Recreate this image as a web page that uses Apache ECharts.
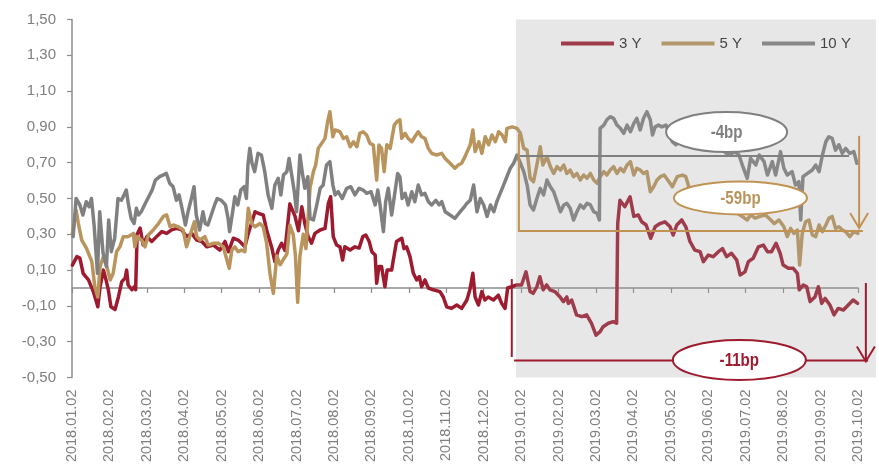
<!DOCTYPE html>
<html>
<head>
<meta charset="utf-8">
<script src="https://cdn.jsdelivr.net/npm/echarts@6/dist/echarts.min.js"></script>
<style>
  html, body { margin: 0; padding: 0; background: #ffffff; }
  #chart { width: 879px; height: 467px; }
</style>
</head>
<body>
<div id="chart"></div>
<script>
// Month tick labels (x axis is measured in months from 2018.01.02)
const tickLabels = [
  '2018.01.02', '2018.02.02', '2018.03.02', '2018.04.02', '2018.05.02', '2018.06.02',
  '2018.07.02', '2018.08.02', '2018.09.02', '2018.10.02', '2018.11.02', '2018.12.02',
  '2019.01.02', '2019.02.02', '2019.03.02', '2019.04.02', '2019.05.02', '2019.06.02',
  '2019.07.02', '2019.08.02', '2019.09.02', '2019.10.02'
];
const yTicks = [-0.5, -0.3, -0.1, 0.1, 0.3, 0.5, 0.7, 0.9, 1.1, 1.3, 1.5];
const seriesNames = ['3 Y', '5 Y', '10 Y'];

// [month, yield %]
const yield3Y = [
  [0.01,0.128],[0.13,0.175],[0.21,0.167],[0.30,0.08],[0.44,0.045],[0.57,-0.02],[0.69,-0.105],[0.75,0.007],
  [0.84,0.10],[0.91,0.045],[0.97,-0.01],[1.04,-0.105],[1.15,-0.12],[1.24,-0.05],[1.33,0.035],[1.42,0.055],
  [1.46,0.10],[1.50,0.017],[1.60,-0.01],[1.66,0.007],[1.70,-0.01],[1.74,0.30],[1.82,0.335],[1.90,0.24],
  [2.00,0.287],[2.13,0.26],[2.26,0.287],[2.40,0.315],[2.53,0.305],[2.66,0.325],[2.80,0.333],[2.93,0.325],
  [3.06,0.287],[3.20,0.305],[3.33,0.268],[3.47,0.26],[3.60,0.23],[3.78,0.24],[3.95,0.212],[4.09,0.26],
  [4.18,0.203],[4.31,0.278],[4.44,0.268],[4.53,0.25],[4.62,0.23],[4.71,0.305],[4.89,0.426],[4.98,0.417],
  [5.11,0.408],[5.20,0.324],[5.34,0.223],[5.42,0.147],[5.51,0.212],[5.60,0.25],[5.69,0.21],[5.82,0.47],
  [5.96,0.40],[6.05,0.32],[6.14,0.454],[6.22,0.36],[6.31,0.287],[6.40,0.25],[6.49,0.305],[6.63,0.324],
  [6.76,0.333],[6.85,0.473],[6.91,0.51],[6.98,0.287],[7.07,0.24],[7.16,0.23],[7.23,0.156],[7.29,0.23],
  [7.43,0.212],[7.56,0.23],[7.67,0.223],[7.77,0.287],[7.85,0.296],[7.94,0.26],[8.01,0.203],[8.10,0.184],
  [8.14,0.026],[8.20,0.12],[8.27,0.12],[8.36,0.007],[8.42,0.10],[8.54,0.10],[8.60,0.175],[8.67,0.26],
  [8.81,0.278],[8.87,0.22],[8.94,0.23],[9.03,0.175],[9.12,0.082],[9.21,0.045],[9.28,0.063],[9.34,0.007],
  [9.43,0.045],[9.52,0.0],[9.65,-0.01],[9.83,-0.02],[9.92,-0.05],[10.01,-0.105],[10.14,-0.114],[10.28,-0.095],
  [10.41,-0.114],[10.55,-0.067],[10.63,-0.01],[10.71,0.082],[10.77,-0.05],[10.86,-0.095],[10.95,-0.02],[11.03,-0.067],
  [11.12,-0.05],[11.26,-0.067],[11.39,-0.04],[11.48,-0.086],[11.57,-0.114],[11.64,0.0],[11.75,0.007],[11.88,0.017],
  [12.01,0.017],[12.13,0.09],[12.24,-0.02],[12.32,-0.03],[12.42,0.007],[12.50,0.063],[12.59,-0.01],[12.68,0.017],
  [12.77,-0.01],[12.90,-0.02],[13.04,-0.05],[13.13,-0.076],[13.22,-0.05],[13.26,-0.086],[13.35,-0.067],[13.48,-0.15],
  [13.62,-0.16],[13.75,-0.15],[13.88,-0.197],[14.00,-0.263],[14.11,-0.244],[14.19,-0.216],[14.33,-0.197],[14.46,-0.188],
  [14.55,-0.197],[14.58,0.36],[14.64,0.49],[14.77,0.454],[14.91,0.51],[15.01,0.40],[15.13,0.408],[15.22,0.37],
  [15.34,0.352],[15.46,0.278],[15.58,0.342],[15.71,0.36],[15.84,0.37],[15.98,0.342],[16.06,0.296],[16.16,0.352],
  [16.29,0.38],[16.40,0.342],[16.51,0.26],[16.64,0.212],[16.78,0.203],[16.87,0.147],[17.00,0.184],[17.13,0.175],
  [17.27,0.203],[17.38,0.22],[17.49,0.175],[17.62,0.194],[17.76,0.156],[17.85,0.073],[17.98,0.09],[18.07,0.147],
  [18.20,0.166],[18.34,0.23],[18.47,0.24],[18.58,0.203],[18.69,0.203],[18.81,0.25],[18.92,0.194],[19.00,0.128],
  [19.14,0.11],[19.27,0.11],[19.38,0.082],[19.43,-0.01],[19.54,0.017],[19.63,0.007],[19.72,-0.076],[19.85,-0.05],
  [19.94,0.007],[20.03,-0.086],[20.12,-0.058],[20.25,-0.095],[20.36,-0.15],[20.47,-0.114],[20.61,-0.123],[20.74,-0.095],
  [20.87,-0.067],[20.99,-0.086]
];

const yield5Y = [
  [0.01,0.305],[0.11,0.436],[0.17,0.36],[0.26,0.268],[0.39,0.22],[0.53,0.147],[0.61,0.007],[0.69,-0.05],
  [0.75,0.12],[0.84,0.175],[0.93,0.12],[1.02,0.045],[1.10,0.082],[1.19,0.203],[1.28,0.23],[1.37,0.287],
  [1.50,0.287],[1.64,0.305],[1.68,0.23],[1.74,0.287],[1.86,0.268],[1.95,0.23],[2.04,0.296],[2.17,0.324],
  [2.31,0.36],[2.44,0.40],[2.53,0.408],[2.62,0.342],[2.71,0.352],[2.84,0.342],[2.97,0.324],[3.06,0.23],
  [3.20,0.324],[3.27,0.37],[3.33,0.287],[3.42,0.268],[3.55,0.287],[3.64,0.24],[3.78,0.25],[3.91,0.25],
  [4.04,0.23],[4.20,0.11],[4.27,0.212],[4.35,0.23],[4.44,0.203],[4.53,0.212],[4.62,0.203],[4.71,0.445],
  [4.80,0.36],[4.89,0.342],[5.02,0.36],[5.11,0.342],[5.20,0.25],[5.29,0.08],[5.38,-0.03],[5.47,0.18],
  [5.56,0.13],[5.65,0.16],[5.74,0.19],[5.82,0.35],[5.91,0.30],[5.97,0.18],[6.03,-0.08],[6.09,0.18],
  [6.18,0.30],[6.25,0.22],[6.31,0.40],[6.36,0.56],[6.45,0.65],[6.51,0.687],[6.58,0.78],[6.67,0.808],
  [6.76,0.836],[6.83,0.929],[6.89,0.985],[6.97,0.845],[7.03,0.883],[7.16,0.873],[7.25,0.836],[7.34,0.845],
  [7.43,0.789],[7.52,0.817],[7.61,0.789],[7.69,0.864],[7.78,0.873],[7.87,0.855],[7.96,0.808],[8.05,0.799],
  [8.14,0.603],[8.20,0.799],[8.27,0.78],[8.34,0.65],[8.41,0.80],[8.50,0.78],[8.61,0.91],[8.68,0.929],
  [8.76,0.94],[8.81,0.836],[8.90,0.864],[8.98,0.836],[9.08,0.817],[9.16,0.845],[9.25,0.873],[9.34,0.845],
  [9.43,0.836],[9.52,0.78],[9.61,0.752],[9.74,0.743],[9.88,0.752],[9.97,0.724],[10.10,0.697],[10.23,0.669],
  [10.32,0.687],[10.41,0.697],[10.50,0.734],[10.55,0.743],[10.64,0.80],[10.71,0.883],[10.77,0.762],[10.87,0.817],
  [10.95,0.752],[11.04,0.845],[11.13,0.80],[11.22,0.855],[11.31,0.817],[11.40,0.873],[11.49,0.855],[11.58,0.817],
  [11.62,0.892],[11.76,0.90],[11.89,0.892],[11.98,0.864],[12.07,0.78],[12.16,0.77],[12.24,0.613],[12.33,0.594],
  [12.42,0.687],[12.51,0.789],[12.58,0.687],[12.69,0.734],[12.78,0.678],[12.87,0.64],[12.96,0.678],[13.05,0.659],
  [13.14,0.687],[13.22,0.64],[13.31,0.659],[13.40,0.622],[13.49,0.64],[13.58,0.603],[13.67,0.631],[13.76,0.613],
  [13.85,0.64],[13.94,0.603],[14.03,0.585],[14.11,0.622],[14.21,0.65],[14.29,0.631],[14.38,0.659],[14.47,0.678],
  [14.56,0.64],[14.65,0.669],[14.74,0.65],[14.83,0.687],[14.92,0.706],[15.01,0.631],[15.09,0.669],[15.18,0.659],
  [15.27,0.64],[15.36,0.65],[15.45,0.538],[15.54,0.566],[15.63,0.603],[15.72,0.622],[15.82,0.631],[15.95,0.594],
  [16.04,0.566],[16.17,0.622],[16.31,0.631],[16.40,0.622],[16.48,0.566],[16.64,0.54],[16.83,0.50],[17.05,0.52],
  [17.26,0.47],[17.47,0.45],[17.69,0.43],[17.90,0.40],[18.04,0.38],[18.13,0.408],[18.25,0.39],[18.38,0.40],
  [18.53,0.408],[18.67,0.38],[18.76,0.36],[18.89,0.38],[19.02,0.342],[19.11,0.287],[19.20,0.333],[19.29,0.305],
  [19.38,0.324],[19.44,0.128],[19.51,0.305],[19.60,0.37],[19.69,0.38],[19.78,0.296],[19.87,0.287],[19.96,0.352],
  [20.05,0.315],[20.14,0.352],[20.22,0.389],[20.31,0.40],[20.40,0.333],[20.49,0.342],[20.58,0.324],[20.67,0.315],
  [20.78,0.287],[20.89,0.315],[21.00,0.305]
];

const yield10Y = [
  [0.03,0.287],[0.11,0.50],[0.21,0.464],[0.29,0.408],[0.38,0.482],[0.46,0.454],[0.52,0.50],[0.59,0.352],
  [0.68,0.082],[0.74,0.426],[0.83,0.194],[0.92,0.12],[0.98,0.38],[1.05,0.203],[1.14,0.278],[1.23,0.50],
  [1.32,0.49],[1.39,0.52],[1.45,0.547],[1.51,0.464],[1.58,0.389],[1.66,0.36],[1.72,0.445],[1.78,0.408],
  [1.85,0.426],[1.96,0.473],[2.05,0.51],[2.14,0.547],[2.23,0.603],[2.34,0.622],[2.43,0.631],[2.52,0.64],
  [2.61,0.585],[2.70,0.566],[2.79,0.49],[2.86,0.52],[2.94,0.445],[3.03,0.352],[3.10,0.426],[3.19,0.50],
  [3.26,0.566],[3.32,0.408],[3.41,0.324],[3.50,0.426],[3.56,0.36],[3.63,0.352],[3.72,0.408],[3.81,0.464],
  [3.88,0.50],[3.99,0.49],[4.10,0.464],[4.17,0.389],[4.21,0.315],[4.28,0.408],[4.35,0.51],[4.43,0.464],
  [4.51,0.547],[4.60,0.566],[4.66,0.50],[4.70,0.687],[4.75,0.78],[4.81,0.697],[4.88,0.65],[4.97,0.752],
  [5.06,0.743],[5.15,0.65],[5.24,0.52],[5.34,0.445],[5.42,0.575],[5.51,0.613],[5.58,0.52],[5.65,0.631],
  [5.74,0.65],[5.80,0.724],[5.87,0.631],[5.94,0.538],[6.00,0.426],[6.09,0.743],[6.15,0.65],[6.22,0.557],
  [6.30,0.622],[6.36,0.389],[6.45,0.38],[6.54,0.464],[6.63,0.557],[6.71,0.575],[6.80,0.687],[6.89,0.706],
  [6.97,0.575],[7.03,0.52],[7.11,0.538],[7.22,0.50],[7.34,0.557],[7.45,0.566],[7.56,0.52],[7.67,0.557],
  [7.78,0.547],[7.87,0.529],[7.99,0.538],[8.10,0.464],[8.17,0.547],[8.23,0.464],[8.32,0.315],[8.38,0.482],
  [8.45,0.557],[8.54,0.408],[8.63,0.538],[8.70,0.64],[8.76,0.622],[8.82,0.50],[8.90,0.529],[8.98,0.464],
  [9.08,0.538],[9.16,0.482],[9.25,0.575],[9.34,0.52],[9.43,0.529],[9.52,0.482],[9.61,0.464],[9.72,0.49],
  [9.81,0.464],[9.88,0.482],[9.97,0.426],[10.10,0.408],[10.23,0.389],[10.37,0.426],[10.47,0.45],[10.55,0.473],
  [10.64,0.49],[10.73,0.575],[10.82,0.426],[10.91,0.50],[11.00,0.464],[11.09,0.40],[11.18,0.464],[11.27,0.426],
  [11.35,0.482],[11.44,0.529],[11.53,0.575],[11.62,0.622],[11.71,0.669],[11.80,0.697],[11.89,0.743],[11.98,0.697],
  [12.07,0.65],[12.16,0.575],[12.24,0.464],[12.33,0.436],[12.42,0.50],[12.51,0.557],[12.60,0.52],[12.69,0.603],
  [12.78,0.566],[12.87,0.538],[12.96,0.482],[13.05,0.426],[13.14,0.464],[13.22,0.473],[13.31,0.445],[13.40,0.38],
  [13.49,0.426],[13.58,0.464],[13.67,0.445],[13.76,0.473],[13.85,0.464],[13.94,0.426],[14.03,0.417],[14.09,0.38],
  [14.11,0.892],[14.21,0.91],[14.29,0.94],[14.38,0.957],[14.47,0.948],[14.56,0.91],[14.65,0.892],[14.74,0.864],
  [14.83,0.91],[14.92,0.873],[15.01,0.92],[15.09,0.948],[15.18,0.883],[15.27,0.948],[15.36,0.985],[15.45,0.94],
  [15.51,0.855],[15.58,0.90],[15.67,0.91],[15.76,0.90],[15.87,0.91],[16.04,0.817],[16.13,0.80],[16.38,0.84],
  [16.64,0.82],[16.91,0.80],[17.18,0.79],[17.37,0.77],[17.55,0.743],[17.71,0.76],[17.82,0.743],[17.91,0.687],
  [18.04,0.613],[18.13,0.724],[18.27,0.687],[18.36,0.743],[18.49,0.706],[18.58,0.631],[18.71,0.706],[18.80,0.631],
  [18.93,0.762],[19.02,0.669],[19.11,0.631],[19.24,0.65],[19.33,0.575],[19.42,0.594],[19.47,0.38],[19.53,0.622],
  [19.65,0.64],[19.78,0.659],[19.87,0.687],[19.96,0.65],[20.05,0.743],[20.14,0.817],[20.22,0.845],[20.31,0.836],
  [20.40,0.77],[20.49,0.80],[20.58,0.752],[20.67,0.78],[20.78,0.752],[20.89,0.762],[20.97,0.697]
];

// Annotation geometry, in axis units (months, %)
const shadeMonths = [11.86, 21.48];
const shadeValues = [-0.5, 1.5];
const ref10Y = [11.89, 20.76, 0.737];            // x0, x1, level
const bracket5Y = [11.94, 0.86, 0.318, 21.13];    // x, top, level, x end
const arrow5Y = [21.03, 0.85, 0.335];             // x, from, to
const bracket3Y = [11.75, 0.05, -0.385];          // x, top, bottom
const base3Y = [11.81, 21.27, -0.405];            // x0, x1, level
const arrow3Y = [21.21, 0.028, -0.41];            // x, from, to
const bubbleText = ['-4bp', '-59bp', '-11bp'];
const bubbleCenters = [[17.49, 0.871], [17.86, 0.503], [17.83, -0.402]];

const RED = '#9e1b2f';
const GOLD = '#b9945c';
const GREY = '#808080';
const AXIS = '#8c8c8c';
const FONT = "'Liberation Sans', Arial, sans-serif";

const chart = echarts.init(document.getElementById('chart'), null, { renderer: 'canvas' });

const fmtY = v => v.toFixed(2).replace('.', ',');

function lineSeries(name, data, color) {
  return {
    name: name,
    type: 'line',
    xAxisIndex: 0,
    yAxisIndex: 0,
    data: data,
    showSymbol: false,
    symbol: 'none',
    smooth: false,
    lineStyle: { color: color, width: 3.5, join: 'round', cap: 'round' },
    itemStyle: { color: color },
    emphasis: { disabled: true }
  };
}

chart.setOption({
  animation: false,
  backgroundColor: '#ffffff',
  grid: { left: 72, right: 21, top: 19.5, bottom: 89.5, containLabel: false },
  legend: {
    data: seriesNames,
    left: 561,
    top: 36,
    padding: 0,
    icon: 'rect',
    itemWidth: 53,
    itemHeight: 4,
    itemGap: 20,
    textStyle: { color: '#262626', fontSize: 15, fontFamily: FONT },
    selectedMode: false
  },
  xAxis: [
    {
      type: 'value', min: 0, max: 21, interval: 1, position: 'bottom',
      axisLine: { show: true, onZero: true, lineStyle: { color: AXIS, width: 1.5 } },
      axisTick: { show: true, length: 5, lineStyle: { color: AXIS, width: 1.2 } },
      axisLabel: { show: false },
      splitLine: { show: false }
    },
    {
      type: 'value', min: 0, max: 21, interval: 1, position: 'bottom',
      axisLine: { show: false, onZero: false },
      axisTick: { show: false },
      axisLabel: {
        rotate: 90, margin: 12, color: '#7f7f7f', fontSize: 14.5, fontFamily: FONT,
        formatter: v => tickLabels[Math.round(v)] || ''
      },
      splitLine: { show: false }
    }
  ],
  yAxis: {
    type: 'value', min: -0.5, max: 1.5,
    axisLine: { show: true, lineStyle: { color: AXIS, width: 1.5 } },
    axisTick: { show: true, length: 5, customValues: yTicks, lineStyle: { color: AXIS, width: 1.2 } },
    axisLabel: { customValues: yTicks, formatter: fmtY, color: '#7f7f7f', fontSize: 15, fontFamily: FONT, margin: 16 },
    splitLine: { show: false }
  },
  series: [
    lineSeries(seriesNames[0], yield3Y, RED),
    lineSeries(seriesNames[1], yield5Y, GOLD),
    lineSeries(seriesNames[2], yield10Y, GREY)
  ]
});

// Overlays drawn on top of the plot: shaded 2019 window, reference brackets, bubbles
function P(x, y) { return chart.convertToPixel({ xAxisIndex: 0, yAxisIndex: 0 }, [x, y]); }
function polyline(points, color, z) {
  return { type: 'polyline', silent: true, z: z || 20, shape: { points: points },
           style: { stroke: color, lineWidth: 2, fill: null, lineJoin: 'miter' } };
}
function arrowHead(tip, color) {
  return polyline([[tip[0] - 9, tip[1] - 15], tip, [tip[0] + 9, tip[1] - 15]], color, 21);
}

const els = [];
const s0 = P(shadeMonths[0], shadeValues[1]);
const s1 = P(shadeMonths[1], shadeValues[0]);
els.push({ type: 'rect', silent: true, z: 10,
  shape: { x: s0[0], y: s0[1], width: s1[0] - s0[0], height: s1[1] - s0[1] },
  style: { fill: 'rgba(160,160,160,0.25)' } });

// 10Y reference level
els.push(polyline([P(ref10Y[0], ref10Y[2]), P(ref10Y[1], ref10Y[2])], GREY));

// 5Y bracket and arrow
els.push(polyline([P(bracket5Y[0], bracket5Y[1]), P(bracket5Y[0], bracket5Y[2]), P(bracket5Y[3], bracket5Y[2])], '#c09352'));
const a5 = P(arrow5Y[0], arrow5Y[2]);
els.push(polyline([P(arrow5Y[0], arrow5Y[1]), a5], '#c09352'));
els.push(arrowHead(a5, '#c09352'));

// 3Y bracket and arrow
els.push(polyline([P(bracket3Y[0], bracket3Y[1]), P(bracket3Y[0], bracket3Y[2])], RED));
els.push(polyline([P(base3Y[0], base3Y[2]), P(base3Y[1], base3Y[2])], RED));
const a3 = P(arrow3Y[0], arrow3Y[2]);
els.push(polyline([P(arrow3Y[0], arrow3Y[1]), a3], RED));
els.push(arrowHead(a3, RED));

// Bubbles with the bp changes
const bubbleColors = [GREY, '#c09352', RED];
const textColors = [GREY, GOLD, RED];
const bubbleSize = [[60.5, 20], [66.5, 16.5], [66.5, 20]];
bubbleCenters.forEach((c, i) => {
  const p = P(c[0], c[1]);
  els.push({ type: 'ellipse', silent: true, z: 30,
    shape: { cx: p[0], cy: p[1], rx: bubbleSize[i][0], ry: bubbleSize[i][1] },
    style: { fill: '#ffffff', stroke: bubbleColors[i], lineWidth: 2 } });
  els.push({ type: 'text', silent: true, z: 31, x: p[0], y: p[1] + 1, scaleX: 0.84,
    style: { text: bubbleText[i], fill: textColors[i], font: 'bold 18px ' + FONT,
             textAlign: 'center', textVerticalAlign: 'middle', align: 'center', verticalAlign: 'middle' } });
});

chart.setOption({ graphic: { elements: els } });
</script>
</body>
</html>
